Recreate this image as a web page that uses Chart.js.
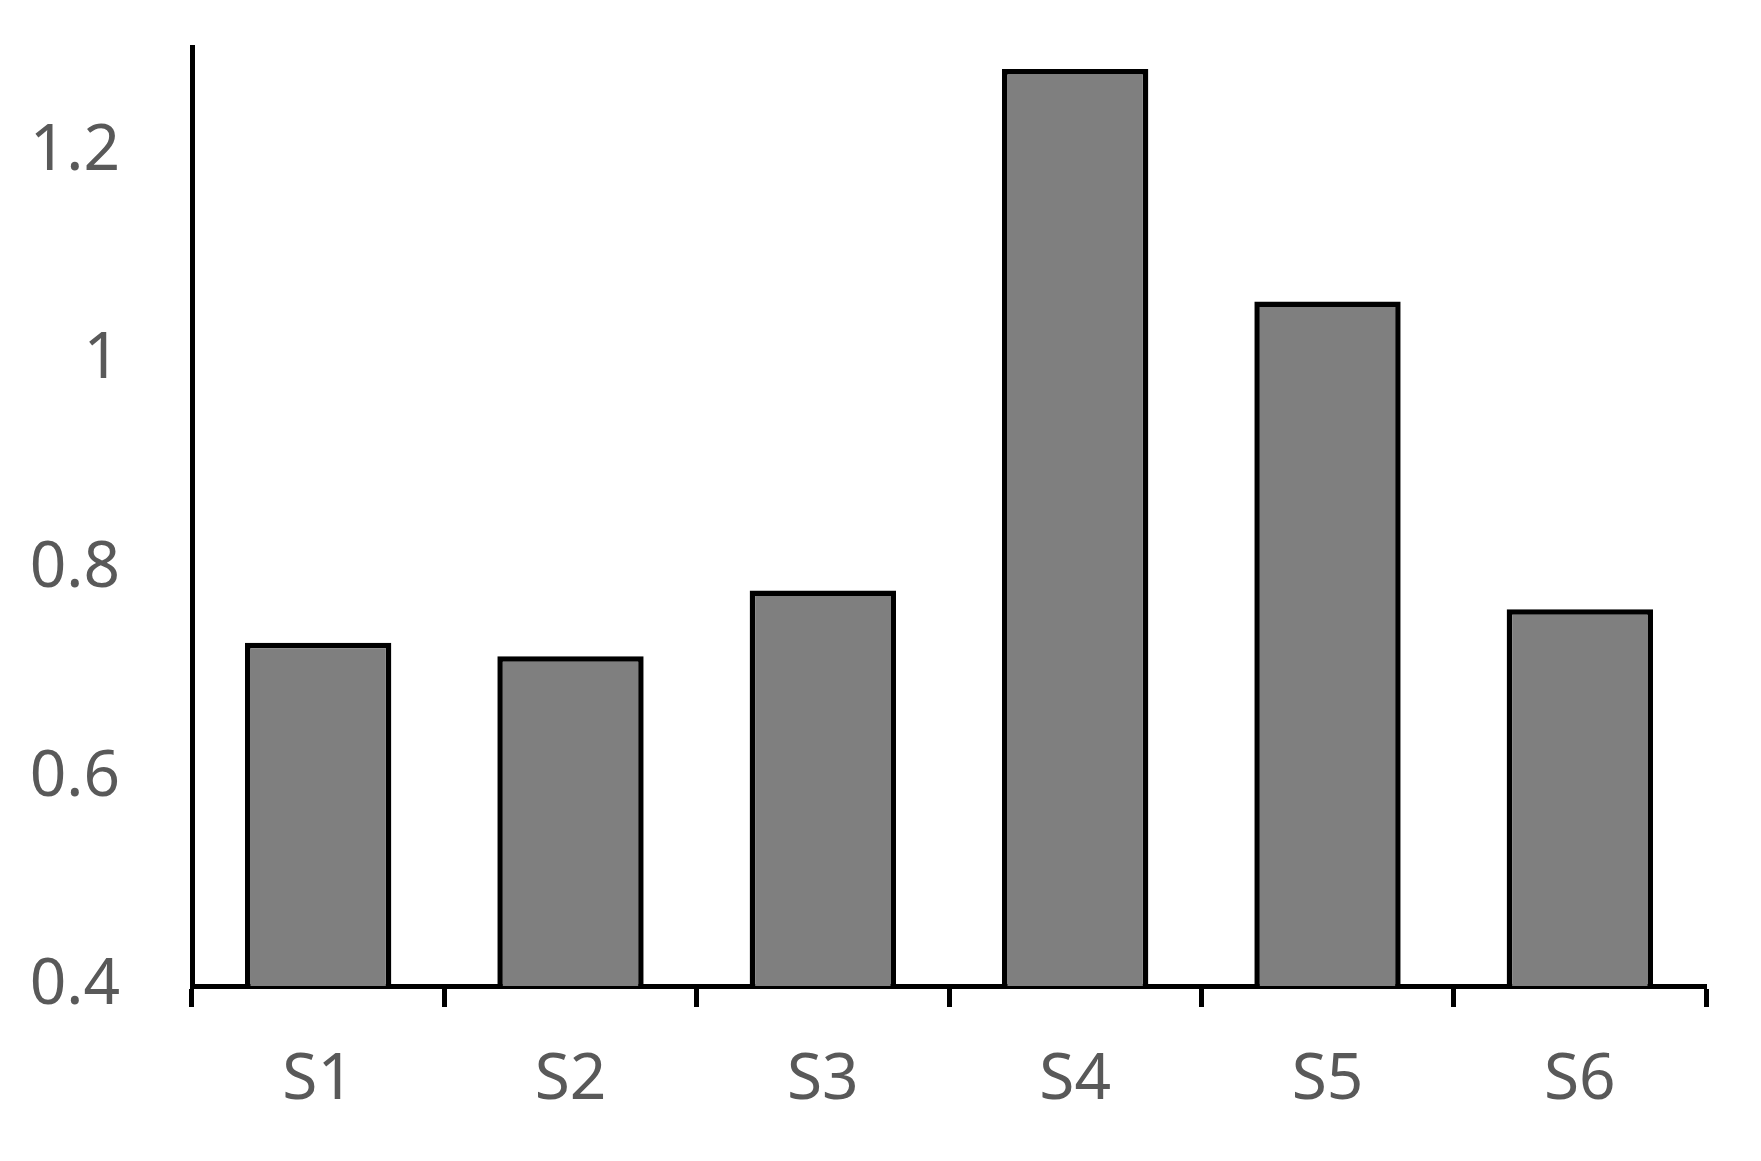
<!DOCTYPE html>
<html>
<head>
<meta charset="utf-8">
<script src="https://cdn.jsdelivr.net/npm/chart.js@4"></script>
<style>
  html, body { margin: 0; padding: 0; background: #fff; }
  #wrap { width: 1761px; height: 1161px; }
</style>
</head>
<body>
<div id="wrap"><canvas id="barChart"></canvas></div>
<script>
// Chart data
const categories = ['S1', 'S2', 'S3', 'S4', 'S5', 'S6'];
const values = [0.729, 0.716, 0.779, 1.279, 1.056, 0.761];
const yTicks = [0.4, 0.6, 0.8, 1, 1.2];

const labelFont = { family: 'Noto Sans', size: 64 };
const labelColor = '#595959';

const ctx = document.getElementById('barChart');

new Chart(ctx, {
  type: 'bar',
  data: {
    labels: categories,
    datasets: [{
      data: values,
      backgroundColor: '#7f7f7f',
      borderColor: '#000000',
      borderWidth: 5.5,
      borderSkipped: 'start',
      categoryPercentage: 1,
      barPercentage: 0.58
    }]
  },
  options: {
    responsive: true,
    maintainAspectRatio: false,
    animation: false,
    layout: { padding: { top: 47, right: 55, left: 0, bottom: 0 } },
    plugins: {
      legend: { display: false },
      tooltip: { enabled: false }
    },
    scales: {
      x: {
        grid: {
          display: true,
          drawOnChartArea: false,
          drawTicks: true,
          tickLength: 21,
          tickWidth: 5,
          tickColor: '#000000',
          offset: true
        },
        border: { display: true, color: '#000000', width: 5 },
        ticks: { font: labelFont, color: labelColor, padding: 35 },
        afterFit: scale => {
          scale.height = 175;
          scale.paddingLeft = 0;
          scale.paddingRight = 0;
        }
      },
      y: {
        min: 0.4,
        max: 1.3,
        afterBuildTicks: scale => {
          scale.ticks = yTicks.map(v => ({ value: v }));
        },
        grid: { display: false },
        border: { display: true, color: '#000000', width: 5 },
        ticks: {
          font: labelFont,
          color: labelColor,
          padding: 64,
          callback: v => String(v)
        },
        afterFit: scale => {
          scale.width = 192;
          scale.paddingTop = 0;
          scale.paddingBottom = 0;
        }
      }
    }
  }
});
</script>
</body>
</html>
